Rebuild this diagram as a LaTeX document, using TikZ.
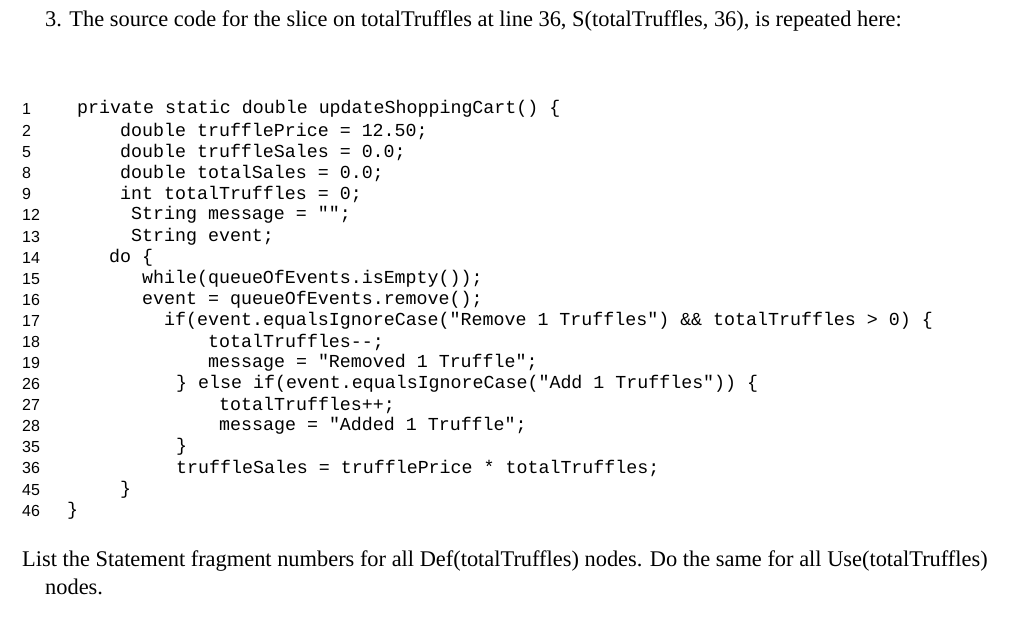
\documentclass[tikz,border=0pt]{standalone}
\usepackage{fontspec}
\setmainfont{Liberation Serif}
\setsansfont{Liberation Sans}
\setmonofont{Liberation Mono}
\begin{document}
\begin{tikzpicture}[x=1pt,y=-1pt,
  txt/.style={anchor=west,inner sep=0pt,font=\fontsize{22.4}{26}\selectfont},
  code/.style={anchor=west,inner sep=0pt,font=\ttfamily\fontsize{18.3}{20}\selectfont},
  num/.style={anchor=west,inner sep=0pt,font=\sffamily\fontsize{16}{18}\selectfont}]
\useasboundingbox[fill=white] (0,0) rectangle (1024,622);
\node[txt] (t) at (45,21) {3. The source code for the slice on totalTruffles at line 36, S(totalTruffles, 36), is repeated here:};
\foreach \n/\y/\x/\c [count=\i] in {
 1/109/77/{private static double updateShoppingCart() \{},
 2/131/120/{double trufflePrice = 12.50;},
 5/152/120/{double truffleSales = 0.0;},
 8/173/120/{double totalSales = 0.0;},
 9/194/120/{int totalTruffles = 0;},
 12/215/131/{String message = "";},
 13/237/131/{String event;},
 14/258/109/{do \{},
 15/279/142/{while(queueOfEvents.isEmpty());},
 16/300/142/{event = queueOfEvents.remove();},
 17/321/164/{if(event.equalsIgnoreCase("Remove 1 Truffles") \&\& totalTruffles > 0) \{},
 18/342/208/{totalTruffles--;},
 19/363/208/{message = "Removed 1 Truffle";},
 26/384/176/{\} else if(event.equalsIgnoreCase("Add 1 Truffles")) \{},
 27/405/219/{totalTruffles++;},
 28/426/219/{message = "Added 1 Truffle";},
 35/447/176/{\}},
 36/468/176/{truffleSales = trufflePrice * totalTruffles;},
 45/490/120/{\}},
 46/511/67/{\}}}
{
  \node[num] (n\i) at (22,\y) {\n};
  \node[code] (c\i) at (\x,\y) {\c};
}
\node[txt] (q1) at (22,561) {List the Statement fragment numbers for all Def(totalTruffles) nodes. Do the same for all Use(totalTruffles)};
\node[txt] (q2) at (45,587) {nodes.};
\end{tikzpicture}
\end{document}
